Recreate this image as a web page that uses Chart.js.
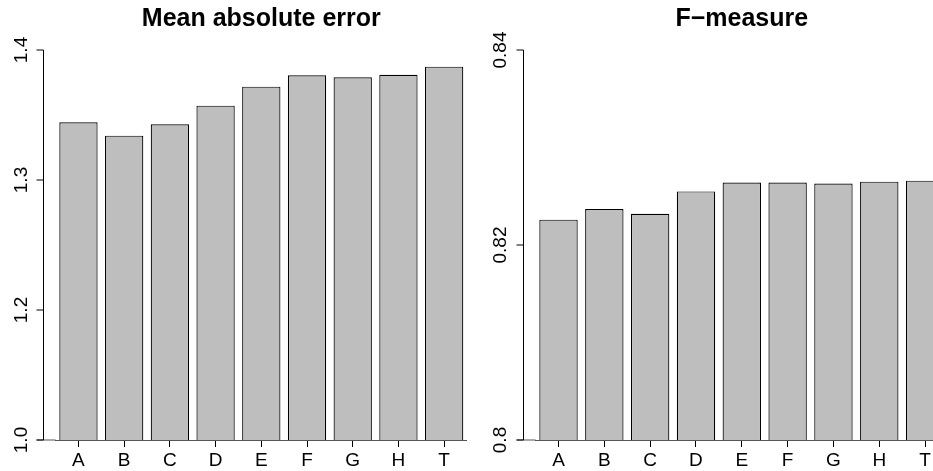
<!DOCTYPE html>
<html>
<head>
<meta charset="utf-8">
<script src="https://cdn.jsdelivr.net/npm/chart.js@4/dist/chart.umd.min.js"></script>
<style>
  html, body { margin: 0; padding: 0; background: #fff; overflow: hidden; width: 933px; height: 471px; }
  canvas { position: absolute; top: 0; }
</style>
</head>
<body>
<canvas id="maeChart" width="467" height="471" style="left:0px"></canvas>
<canvas id="fmChart" width="482" height="471" style="left:466px"></canvas>
<script>
const categories = ["A", "B", "C", "D", "E", "F", "G", "H", "T"];

// left axis is broken: the bottom tick sits at 1.1 but is labelled "1.0"
const maeValues = [1.3444, 1.3341, 1.3428, 1.3572, 1.3718, 1.3805, 1.379, 1.381, 1.3872];
const maeTicks = [1.1, 1.2, 1.3, 1.4];
const maeTickLabels = ["1.0", "1.2", "1.3", "1.4"];

const fmValues = [0.8226, 0.8237, 0.8232, 0.8255, 0.8264, 0.8264, 0.8263, 0.8265, 0.8266];
const fmTicks = [0.80, 0.82, 0.84];
const fmTickLabels = ["0.8", "0.82", "0.84"];

Chart.defaults.font.family = "'Liberation Sans', Arial, sans-serif";
Chart.defaults.color = "#000";

// R style y axis: line set off to the left of the bars, ticks pointing outwards
const rAxis = {
    id: 'rAxis',
    afterDraw(chart) {
        const ctx = chart.ctx;
        const a = chart.chartArea;
        const y = chart.scales.y;
        const ax = Math.round(a.left - 12.6) + 0.5;
        ctx.save();
        ctx.lineWidth = 1;
        ctx.strokeStyle = '#555';
        ctx.beginPath();
        ctx.moveTo(ax - 7, a.bottom);
        ctx.lineTo(a.left, a.bottom);
        ctx.stroke();
        ctx.strokeStyle = '#000';
        ctx.beginPath();
        ctx.moveTo(ax, y.getPixelForValue(y.max));
        ctx.lineTo(ax, y.getPixelForValue(y.min));
        y.ticks.forEach(t => {
            const py = y.getPixelForValue(t.value);
            ctx.moveTo(ax - 7, py);
            ctx.lineTo(ax, py);
        });
        ctx.stroke();
        ctx.restore();
    }
};

function makePanel(id, title, values, ticks, tickLabels, axisWidth, labelPad) {
    return new Chart(document.getElementById(id), {
        type: 'bar',
        data: {
            labels: categories,
            datasets: [{
                data: values,
                backgroundColor: '#bebebe',
                borderColor: '#000',
                borderWidth: 1.2,
                barPercentage: 0.838,
                categoryPercentage: 1.0
            }]
        },
        options: {
            responsive: false,
            animation: false,
            layout: { padding: 0 },
            plugins: {
                legend: { display: false },
                tooltip: { enabled: false },
                title: {
                    display: true,
                    text: title,
                    fullSize: false,
                    color: '#000',
                    font: { size: 25, weight: 'bold' },
                    padding: { top: 4, bottom: 16 }
                }
            },
            scales: {
                x: {
                    type: 'category',
                    grid: { display: true, drawOnChartArea: false, offset: false, tickLength: 7, color: '#000' },
                    border: { display: true, color: '#555' },
                    ticks: { font: { size: 19 }, padding: 2, maxRotation: 0, autoSkip: false },
                    afterFit(s) { s.height = 31; }
                },
                y: {
                    min: ticks[0],
                    max: ticks[ticks.length - 1],
                    grid: { display: false, drawTicks: false },
                    border: { display: false },
                    afterBuildTicks(s) { s.ticks = ticks.map(v => ({ value: v })); },
                    ticks: {
                        font: { size: 19 },
                        minRotation: 90,
                        maxRotation: 90,
                        crossAlign: 'center',
                        padding: labelPad,
                        autoSkip: false,
                        callback: v => tickLabels[ticks.indexOf(v)]
                    },
                    afterFit(s) {
                        s.width = axisWidth;
                        s.paddingTop = 0;
                        s.paddingBottom = 0;
                    }
                }
            }
        },
        plugins: [rAxis]
    });
}

makePanel('maeChart', 'Mean absolute error', maeValues, maeTicks, maeTickLabels, 55.6, 21.1);
makePanel('fmChart', 'F\u2212measure', fmValues, fmTicks, fmTickLabels, 69.6, 16.1);
</script>
</body>
</html>
